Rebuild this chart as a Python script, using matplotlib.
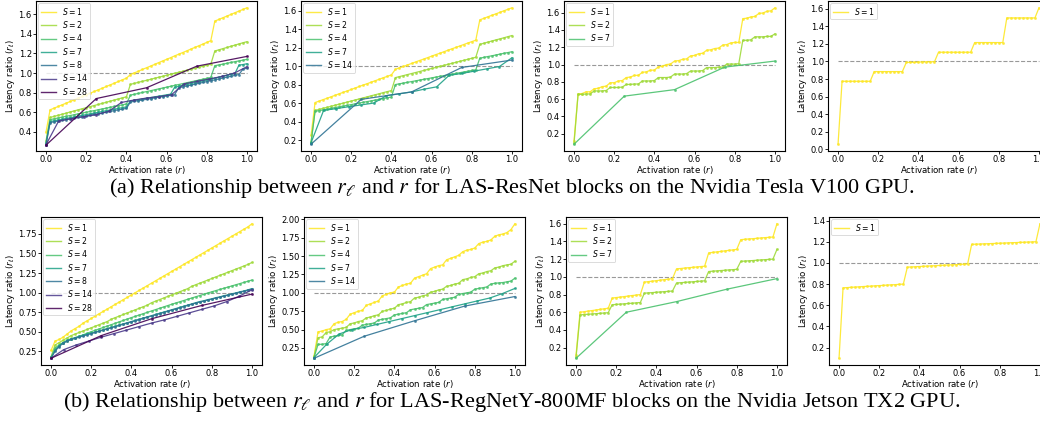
import matplotlib
matplotlib.use('Agg')
import matplotlib.pyplot as plt
from matplotlib.ticker import MultipleLocator
from matplotlib.lines import Line2D

# ---------------- x grids (activation rates) ----------------
R50 = [round(i * 0.02, 2) for i in range(51)]
R16 = [0.0, 0.0625, 0.125, 0.1875, 0.25, 0.3125, 0.375, 0.4375, 0.5,
       0.5625, 0.625, 0.6875, 0.75, 0.8125, 0.875, 0.9375, 1.0]
R4 = [0.0, 0.25, 0.5, 0.75, 1.0]

# ---------------- (a) LAS-ResNet, V100 ----------------
a1_s1 = [0.40, 0.625, 0.642, 0.659, 0.676, 0.693, 0.710, 0.727, 0.744, 0.761, 0.778, 0.795, 0.812, 0.829, 0.846, 0.863, 0.880, 0.897, 0.914, 0.931, 0.948,
         0.985, 1.002, 1.019, 1.037, 1.054, 1.071, 1.088, 1.106, 1.123, 1.140, 1.157, 1.175, 1.192, 1.209, 1.226, 1.244, 1.261, 1.278, 1.295, 1.313, 1.330,
         1.530, 1.547, 1.564, 1.581, 1.598, 1.615, 1.632, 1.649, 1.666]
a1_s2 = [0.31, 0.547, 0.558, 0.569, 0.580, 0.591, 0.603, 0.614, 0.625, 0.636, 0.647, 0.658, 0.669, 0.680, 0.691, 0.702, 0.714, 0.725, 0.736, 0.747, 0.758,
         0.885, 0.895, 0.906, 0.916, 0.926, 0.936, 0.947, 0.957, 0.967, 0.977, 0.988, 0.998, 1.008, 1.018, 1.029, 1.039, 1.049, 1.059, 1.070, 1.080, 1.090,
         1.225, 1.237, 1.249, 1.261, 1.273, 1.285, 1.297, 1.309, 1.320]
a1_s4 = [0.29, 0.525, 0.533, 0.542, 0.550, 0.559, 0.567, 0.575, 0.584, 0.592, 0.600, 0.609, 0.617, 0.626, 0.634, 0.642, 0.651, 0.659, 0.668, 0.676, 0.685,
         0.775, 0.784, 0.793, 0.802, 0.811, 0.820, 0.829, 0.838, 0.847, 0.856, 0.865, 0.874, 0.883, 0.892, 0.901, 0.910, 0.919, 0.928, 0.937, 0.946, 0.955,
         1.075, 1.083, 1.091, 1.099, 1.108, 1.116, 1.124, 1.132, 1.140]
a1_s7 = [0.28, 0.505, 0.513, 0.521, 0.529, 0.537, 0.544, 0.552, 0.560, 0.568, 0.576, 0.584, 0.592, 0.600, 0.608, 0.616, 0.623, 0.631, 0.639, 0.647, 0.655,
         0.715, 0.722, 0.729, 0.736, 0.743, 0.750, 0.757, 0.764, 0.771, 0.778, 0.785,
         0.855, 0.864, 0.874, 0.883, 0.892, 0.902, 0.911, 0.920, 0.930, 0.939, 0.948, 0.958, 0.967, 0.976, 0.986, 0.995,
         1.080, 1.087, 1.095]
a1_s8 = [0.27, 0.495, 0.503, 0.510, 0.518, 0.526, 0.533, 0.541, 0.548, 0.556, 0.564, 0.571, 0.579, 0.587, 0.594, 0.602, 0.609, 0.617, 0.625, 0.632, 0.640,
         0.705, 0.712, 0.719, 0.725, 0.732, 0.739, 0.746, 0.753, 0.759, 0.766, 0.773, 0.780,
         0.850, 0.859, 0.868, 0.877, 0.886, 0.895, 0.904, 0.913, 0.922, 0.931, 0.940, 0.949, 0.958, 0.967, 0.976, 0.985,
         1.040, 1.050]
a1_s14 = [0.27, 0.51, 0.535, 0.555, 0.575, 0.61, 0.70, 0.725, 0.745, 0.76, 0.78, 0.89, 0.915, 0.94, 0.965, 1.00, 1.065]
a1_s28 = [0.265, 0.74, 0.85, 1.07, 1.17]

a2_s1 = [0.25, 0.605, 0.621, 0.637, 0.652, 0.668, 0.684, 0.700, 0.716, 0.731, 0.747, 0.763, 0.779, 0.795, 0.810, 0.826, 0.842, 0.858, 0.874, 0.889, 0.905,
         0.965, 0.981, 0.996, 1.012, 1.028, 1.044, 1.060, 1.075, 1.091, 1.107, 1.123, 1.138, 1.154, 1.170, 1.186, 1.201, 1.217, 1.233, 1.249, 1.264, 1.280,
         1.500, 1.516, 1.533, 1.549, 1.565, 1.581, 1.598, 1.614, 1.630]
a2_s2 = [0.18, 0.520, 0.531, 0.543, 0.554, 0.565, 0.577, 0.588, 0.599, 0.611, 0.622, 0.633, 0.645, 0.656, 0.667, 0.679, 0.690, 0.701, 0.713, 0.724, 0.735,
         0.875, 0.886, 0.897, 0.908, 0.919, 0.930, 0.941, 0.952, 0.963, 0.974, 0.985, 0.996, 1.007, 1.018, 1.029, 1.040, 1.051, 1.062, 1.073, 1.084, 1.095,
         1.235, 1.247, 1.259, 1.271, 1.283, 1.294, 1.306, 1.318, 1.330]
a2_s4 = [0.17, 0.510, 0.518, 0.526, 0.534, 0.543, 0.551, 0.559, 0.567, 0.575, 0.583, 0.592, 0.600, 0.608, 0.616, 0.624, 0.632, 0.641, 0.649, 0.657, 0.665,
         0.800, 0.808, 0.816, 0.824, 0.832, 0.840, 0.848, 0.856, 0.864, 0.872, 0.880, 0.888, 0.896, 0.904, 0.912, 0.920, 0.928, 0.936, 0.944, 0.952, 0.960,
         1.085, 1.094, 1.103, 1.111, 1.120, 1.129, 1.138, 1.146, 1.155]
a2_s7 = [0.17, 0.52, 0.54, 0.56, 0.58, 0.60, 0.68, 0.70, 0.72, 0.75, 0.775, 0.90, 0.92, 0.945, 0.97, 0.995, 1.09]
a2_s14 = [0.155, 0.64, 0.72, 0.985, 1.065]

a3_s1 = [0.12, 0.66, 0.665, 0.685, 0.685, 0.72, 0.725, 0.745, 0.75, 0.79, 0.79, 0.81, 0.815, 0.85, 0.855, 0.875, 0.875, 0.91, 0.915, 0.935, 0.935,
         0.975, 0.98, 1.0, 1.005, 1.04, 1.045, 1.06, 1.065, 1.10, 1.105, 1.125, 1.13, 1.165, 1.17, 1.185, 1.19, 1.225, 1.23, 1.25, 1.255, 1.255,
         1.53, 1.535, 1.55, 1.555, 1.59, 1.595, 1.615, 1.62, 1.655]
a3_s2 = [0.09, 0.655, 0.655, 0.66, 0.66, 0.695, 0.695, 0.695, 0.70, 0.735, 0.735, 0.735, 0.74, 0.77, 0.77, 0.775, 0.775, 0.81, 0.81, 0.81, 0.815,
         0.85, 0.85, 0.85, 0.855, 0.89, 0.89, 0.89, 0.895, 0.925, 0.925, 0.925, 0.93, 0.965, 0.965, 0.965, 0.97, 0.97,
         1.005, 1.005, 1.005, 1.01, 1.28, 1.28, 1.285, 1.32, 1.32, 1.32, 1.325, 1.325, 1.355]
a3_s7 = [0.08, 0.635, 0.71, 0.97, 1.04]

a4_s1 = [0.06, 0.775, 0.775, 0.775, 0.775, 0.775, 0.775, 0.775, 0.775,
         0.885, 0.885, 0.885, 0.885, 0.885, 0.885, 0.885, 0.885,
         0.99, 0.99, 0.99, 0.993, 0.995, 0.995, 0.997, 0.997,
         1.105, 1.105, 1.105, 1.105, 1.105, 1.105, 1.105, 1.105, 1.105,
         1.215, 1.215, 1.215, 1.215, 1.215, 1.215, 1.215, 1.215,
         1.495, 1.495, 1.495, 1.495, 1.495, 1.495, 1.495, 1.495, 1.61]

# ---------------- (b) LAS-RegNetY-800MF, TX2 ----------------
b1_s1 = [0.26, 0.38, 0.40, 0.43, 0.47, 0.51, 0.54, 0.57, 0.61, 0.64, 0.67, 0.70, 0.73, 0.76, 0.79, 0.82, 0.85, 0.88, 0.91, 0.94, 0.97,
         1.00, 1.03, 1.06, 1.09, 1.12, 1.15, 1.18, 1.21, 1.24, 1.27, 1.30, 1.33, 1.36, 1.39, 1.42, 1.45, 1.48, 1.51, 1.54, 1.57,
         1.60, 1.63, 1.66, 1.69, 1.72, 1.75, 1.78, 1.81, 1.84, 1.88]
b1_s2 = [0.18, 0.33, 0.36, 0.39, 0.42, 0.45, 0.47, 0.49, 0.51, 0.53, 0.55, 0.57, 0.59, 0.61, 0.63, 0.66, 0.68, 0.70, 0.72, 0.74, 0.76,
         0.78, 0.80, 0.82, 0.84, 0.87, 0.89, 0.91, 0.93, 0.95, 0.97, 0.99, 1.01, 1.03, 1.05, 1.08, 1.10, 1.12, 1.14, 1.16, 1.18,
         1.20, 1.22, 1.24, 1.26, 1.28, 1.30, 1.32, 1.34, 1.36, 1.385]
b1_s4 = [0.17, 0.29, 0.33, 0.36, 0.38, 0.400, 0.420, 0.440, 0.460, 0.480, 0.500, 0.518, 0.536, 0.554, 0.572, 0.590, 0.608, 0.626, 0.644, 0.662, 0.680,
         0.697, 0.714, 0.731, 0.748, 0.765, 0.782, 0.799, 0.816, 0.833, 0.850, 0.866, 0.882, 0.898, 0.914, 0.930, 0.946, 0.962, 0.978, 0.994, 1.010,
         1.025, 1.040, 1.055, 1.070, 1.085, 1.100, 1.115, 1.130, 1.145, 1.160]
b1_s7 = [0.17, 0.26, 0.32, 0.36, 0.39, 0.41, 0.425, 0.44, 0.455, 0.47, 0.48, 0.495, 0.51, 0.525, 0.54, 0.555, 0.57, 0.585, 0.60, 0.615, 0.63,
         0.645, 0.66, 0.675, 0.69, 0.705, 0.72, 0.735, 0.75, 0.765, 0.78, 0.795, 0.81, 0.825, 0.84, 0.855, 0.87, 0.885, 0.895, 0.91, 0.92,
         0.935, 0.945, 0.96, 0.97, 0.985, 0.995, 1.01, 1.02, 1.035, 1.05]
b1_s8 = [0.16, 0.25, 0.31, 0.35, 0.38, 0.40, 0.415, 0.43, 0.445, 0.46, 0.475, 0.49, 0.505, 0.52, 0.535, 0.55, 0.565, 0.58, 0.595, 0.61, 0.625,
         0.64, 0.655, 0.67, 0.685, 0.70, 0.715, 0.73, 0.745, 0.76, 0.775, 0.79, 0.805, 0.82, 0.835, 0.85, 0.865, 0.88, 0.89, 0.905, 0.915,
         0.93, 0.94, 0.955, 0.965, 0.98, 0.99, 1.005, 1.015, 1.03, 1.045]
b1_s14 = [0.16, 0.27, 0.33, 0.38, 0.43, 0.475, 0.52, 0.565, 0.61, 0.65, 0.695, 0.74, 0.785, 0.83, 0.885, 0.955, 1.035]
b1_s28 = [0.16, 0.45, 0.665, 0.835, 0.98]

b2_s1 = [0.14, 0.47, 0.48, 0.50, 0.51, 0.58, 0.60, 0.61, 0.64, 0.71, 0.73, 0.75, 0.76, 0.83, 0.85, 0.87, 0.89, 0.96, 0.98, 1.00, 1.01,
         1.08, 1.10, 1.12, 1.13, 1.20, 1.22, 1.24, 1.26, 1.33, 1.35, 1.37, 1.38, 1.45, 1.47, 1.49, 1.51, 1.56, 1.58, 1.59, 1.61,
         1.67, 1.69, 1.70, 1.72, 1.77, 1.79, 1.80, 1.82, 1.86, 1.94]
b2_s2 = [0.13, 0.39, 0.40, 0.46, 0.47, 0.50, 0.51, 0.52, 0.53, 0.58, 0.59, 0.61, 0.62, 0.66, 0.67, 0.69, 0.70, 0.75, 0.76, 0.78, 0.79,
         0.84, 0.85, 0.87, 0.88, 0.93, 0.94, 0.96, 0.97, 1.01, 1.02, 1.04, 1.05, 1.09, 1.10, 1.12, 1.13, 1.18, 1.19, 1.21, 1.22,
         1.26, 1.27, 1.29, 1.30, 1.34, 1.35, 1.37, 1.38, 1.39, 1.43]
b2_s4 = [0.12, 0.30, 0.30, 0.31, 0.40, 0.41, 0.42, 0.43, 0.49, 0.50, 0.51, 0.52, 0.56, 0.57, 0.58, 0.59, 0.63, 0.64, 0.65, 0.66, 0.70,
         0.71, 0.72, 0.73, 0.77, 0.78, 0.79, 0.80, 0.84, 0.85, 0.86, 0.87, 0.91, 0.92, 0.93, 0.94, 0.98, 0.99, 1.00, 1.01, 1.05,
         1.06, 1.07, 1.08, 1.12, 1.13, 1.135, 1.14, 1.15, 1.16, 1.20]
b2_s7 = [0.12, 0.30, 0.44, 0.50, 0.53, 0.57, 0.61, 0.65, 0.69, 0.73, 0.77, 0.81, 0.85, 0.89, 0.93, 0.99, 1.06]
b2_s14 = [0.11, 0.41, 0.62, 0.82, 0.95]

b3_s1 = [0.12, 0.600, 0.606, 0.613, 0.619, 0.626, 0.632, 0.639, 0.645,
         0.760, 0.766, 0.771, 0.777, 0.783, 0.789, 0.794, 0.800,
         0.940, 0.946, 0.951, 0.957, 0.963, 0.969, 0.974, 0.980,
         1.090, 1.094, 1.099, 1.103, 1.107, 1.111, 1.116, 1.120,
         1.270, 1.276, 1.281, 1.287, 1.293, 1.299, 1.304, 1.310,
         1.420, 1.424, 1.428, 1.431, 1.435, 1.439, 1.443, 1.446, 1.450, 1.60]
b3_s2 = [0.09, 0.570, 0.574, 0.577, 0.581, 0.584, 0.588, 0.591, 0.595,
         0.685, 0.688, 0.692, 0.695, 0.699, 0.702, 0.706, 0.710,
         0.815, 0.819, 0.822, 0.826, 0.829, 0.833, 0.836, 0.840,
         0.930, 0.934, 0.937, 0.941, 0.944, 0.948, 0.951, 0.955,
         1.060, 1.064, 1.067, 1.071, 1.074, 1.078, 1.081, 1.085,
         1.175, 1.178, 1.181, 1.184, 1.188, 1.191, 1.194, 1.197, 1.200, 1.31]
b3_s7 = [0.08, 0.60, 0.72, 0.86, 0.98]

b4_s1 = [0.10, 0.765, 0.767, 0.770, 0.772, 0.774, 0.777, 0.779, 0.781, 0.784, 0.786, 0.788, 0.791, 0.793, 0.795, 0.798, 0.800,
         0.960, 0.962, 0.964, 0.966, 0.968, 0.970, 0.972, 0.974, 0.976, 0.978, 0.980, 0.982, 0.984, 0.986, 0.988, 0.990,
         1.175, 1.177, 1.178, 1.180, 1.181, 1.183, 1.184, 1.186, 1.187, 1.189, 1.191, 1.192, 1.194, 1.195, 1.197, 1.198, 1.200, 1.37]

CAPTION_A = r"(a) Relationship between $r_\ell$ and $r$ for LAS-ResNet blocks on the Nvidia Tesla V100 GPU."
CAPTION_B = r"(b) Relationship between $r_\ell$ and $r$ for LAS-RegNetY-800MF blocks on the Nvidia Jetson TX2 GPU."

COLORS = ['#fde725', '#9fda3a', '#4ac16d', '#1fa187', '#2f7394', '#4a3a8a', '#440154']

panels = [
    # (left px, top px, bottom px, ystep, ylim, series)
    (36, 1, 151, 0.2, (0.205, 1.735), [(1, R50, a1_s1), (2, R50, a1_s2), (4, R50, a1_s4), (7, R50, a1_s7),
                                       (8, R50, a1_s8), (14, R16, a1_s14), (28, R4, a1_s28)]),
    (301, 1, 151, 0.2, None, [(1, R50, a2_s1), (2, R50, a2_s2), (4, R50, a2_s4), (7, R16, a2_s7), (14, R4, a2_s14)]),
    (564, 1, 151, 0.2, None, [(1, R50, a3_s1), (2, R50, a3_s2), (7, R4, a3_s7)]),
    (828, 1, 151, 0.2, None, [(1, R50, a4_s1)]),
    (41, 217, 365, 0.25, None, [(1, R50, b1_s1), (2, R50, b1_s2), (4, R50, b1_s4), (7, R50, b1_s7),
                                (8, R50, b1_s8), (14, R16, b1_s14), (28, R4, b1_s28)]),
    (304, 217, 365, 0.25, None, [(1, R50, b2_s1), (2, R50, b2_s2), (4, R50, b2_s4), (7, R16, b2_s7), (14, R4, b2_s14)]),
    (566, 217, 365, 0.2, None, [(1, R50, b3_s1), (2, R50, b3_s2), (7, R4, b3_s7)]),
    (829, 217, 365, 0.2, None, [(1, R50, b4_s1)]),
]

W, H = 1040, 421
fig = plt.figure(figsize=(W / 100, H / 100), dpi=100)
AXW = 221

for left, top, bottom, ystep, ylim, series in panels:
    ax = fig.add_axes([left / W, 1 - bottom / H, AXW / W, (bottom - top) / H])
    ax.hlines(1.0, 0, 1, colors='#999999', linestyles='--', linewidth=0.8, zorder=1)
    handles = []
    for i, (s, xs, ys) in enumerate(series):
        ax.plot(xs, ys, color=COLORS[i], lw=0.9, marker='o', ms=1.6, mew=0.3,
                alpha=0.9, zorder=2 + i * 0.01)
        handles.append(Line2D([], [], color=COLORS[i], lw=1.0, alpha=0.85, label=r'$S=%d$' % s))
    if ylim is not None:
        ax.set_ylim(*ylim)
    ax.xaxis.set_major_locator(MultipleLocator(0.2))
    ax.yaxis.set_major_locator(MultipleLocator(ystep))
    ax.tick_params(labelsize=6, length=2, width=0.6, pad=1)
    for sp in ax.spines.values():
        sp.set_linewidth(0.8)
    ax.set_xlabel(r'Activation rate ($r$)', fontsize=6.2, labelpad=0)
    ax.set_ylabel(r'Latency ratio ($r_\ell$)', fontsize=6.2, labelpad=1)
    leg = ax.legend(handles=handles, loc='upper left', fontsize=5.6, handlelength=2.0, borderpad=0.35,
                    labelspacing=0.3, handletextpad=0.7, framealpha=0.8, borderaxespad=0.25)
    leg.get_frame().set_linewidth(0.6)

fig.text(512 / W, 1 - 188 / H, CAPTION_A, ha='center', va='center', fontsize=16,
         family='Liberation Serif', math_fontfamily='stix')
fig.text(512 / W, 1 - 402 / H, CAPTION_B, ha='center', va='center', fontsize=16,
         family='Liberation Serif', math_fontfamily='stix')

fig.savefig('out.png', dpi=100)
